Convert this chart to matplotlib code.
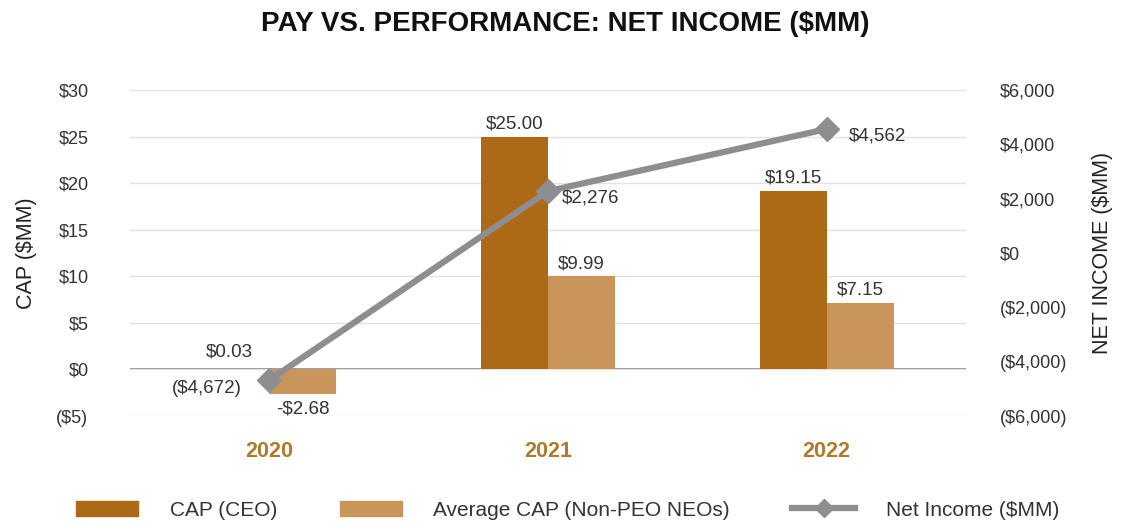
import matplotlib.pyplot as plt
import numpy as np
from matplotlib.lines import Line2D
from matplotlib.patches import Patch

plt.rcParams['font.family'] = ['Liberation Sans', 'DejaVu Sans']

years = ['2020', '2021', '2022']
cap_ceo = [0.03, 25.00, 19.15]
cap_neo = [-2.68, 9.99, 7.15]
net_income = [-4672, 2276, 4562]

ceo_labels = ['$0.03', '$25.00', '$19.15']
neo_labels = ['-$2.68', '$9.99', '$7.15']
ni_labels = ['($4,672)', '$2,276', '$4,562']

left_ticks = [-5, 0, 5, 10, 15, 20, 25, 30]
left_ticklabels = ['($5)', '$0', '$5', '$10', '$15', '$20', '$25', '$30']
right_ticks = [-6000, -4000, -2000, 0, 2000, 4000, 6000]
right_ticklabels = ['($6,000)', '($4,000)', '($2,000)', '$0', '$2,000', '$4,000', '$6,000']

c_ceo = '#AD6A16'
c_neo = '#C9955A'
c_line = '#8E8E90'
c_year = '#B07A2A'
c_text = '#333333'

fig = plt.figure(figsize=(11.22, 5.26), dpi=100)
ax = fig.add_axes([0.116, 0.209, 0.745, 0.62])
ax2 = ax.twinx()

x = np.arange(len(years))
w = 0.24
ax.bar(x - w / 2, cap_ceo, w, color=c_ceo, zorder=2)
ax.bar(x + w / 2, cap_neo, w, color=c_neo, zorder=2)

ax.set_xlim(-0.5, 2.5)
ax.set_ylim(-5, 30)
ax.set_yticks(left_ticks)
ax.set_yticklabels(left_ticklabels)
ax.set_xticks(x)
ax.set_xticklabels(years, fontweight='bold', color=c_year, fontsize=15.5)
ax.tick_params(axis='x', length=0, pad=18)
ax.tick_params(axis='y', length=0, labelsize=13, labelcolor=c_text, pad=30)
ax.grid(axis='y', color='#E3E3E3', lw=1, zorder=0)
ax.axhline(0, color='#7A7A7A', lw=1.2, zorder=1)
for s in ax.spines.values():
    s.set_visible(False)
ax.set_ylabel('CAP ($MM)', fontsize=15.5, color='#222222', labelpad=14)

ax2.plot(x, net_income, color=c_line, lw=4.5, marker='D', markersize=12, zorder=3)
ax2.set_ylim(-6000, 6000)
ax2.set_yticks(right_ticks)
ax2.set_yticklabels(right_ticklabels)
ax2.tick_params(axis='y', length=0, labelsize=13, labelcolor=c_text, pad=24)
for s in ax2.spines.values():
    s.set_visible(False)
ax2.set_ylabel('NET INCOME ($MM)', fontsize=15.5, color='#222222', labelpad=18)

# value labels for bars
lab = dict(fontsize=13.5, color=c_text)
ax.annotate(ceo_labels[0], (x[0] - w / 2, cap_ceo[0]), xytext=(-5, 6), textcoords='offset points',
            ha='center', va='bottom', **lab)
ax.annotate(neo_labels[0], (x[0] + w / 2, cap_neo[0]), xytext=(0, -4), textcoords='offset points',
            ha='center', va='top', **lab)
for i in (1, 2):
    ax.annotate(ceo_labels[i], (x[i] - w / 2, cap_ceo[i]), xytext=(0, 3), textcoords='offset points',
                ha='center', va='bottom', **lab)
    ax.annotate(neo_labels[i], (x[i] + w / 2, cap_neo[i]), xytext=(0, 3), textcoords='offset points',
                ha='center', va='bottom', **lab)

# value labels for net income
ax2.annotate(ni_labels[0], (x[0], net_income[0]), xytext=(-45, -6), textcoords='offset points',
             ha='center', va='center', **lab)
ax2.annotate(ni_labels[1], (x[1], net_income[1]), xytext=(10, -5), textcoords='offset points',
             ha='left', va='center', **lab)
ax2.annotate(ni_labels[2], (x[2], net_income[2]), xytext=(16, -5), textcoords='offset points',
             ha='left', va='center', **lab)

fig.text(0.504, 0.955, 'PAY VS. PERFORMANCE: NET INCOME ($MM)', ha='center', va='center',
         fontsize=20, fontweight='bold', color='#111111')

handles = [Patch(color=c_ceo), Patch(color=c_neo),
           Line2D([], [], color=c_line, lw=4.5, marker='D', markersize=9)]
fig.legend(handles, ['CAP (CEO)', 'Average CAP (Non-PEO NEOs)', 'Net Income ($MM)'],
           loc='center', bbox_to_anchor=(0.506, 0.03), ncol=3, frameon=False,
           fontsize=15, handlelength=3.0, handleheight=0.75, handletextpad=1.5,
           columnspacing=3.0, labelcolor=c_text)

fig.savefig('out.png', dpi=100)
